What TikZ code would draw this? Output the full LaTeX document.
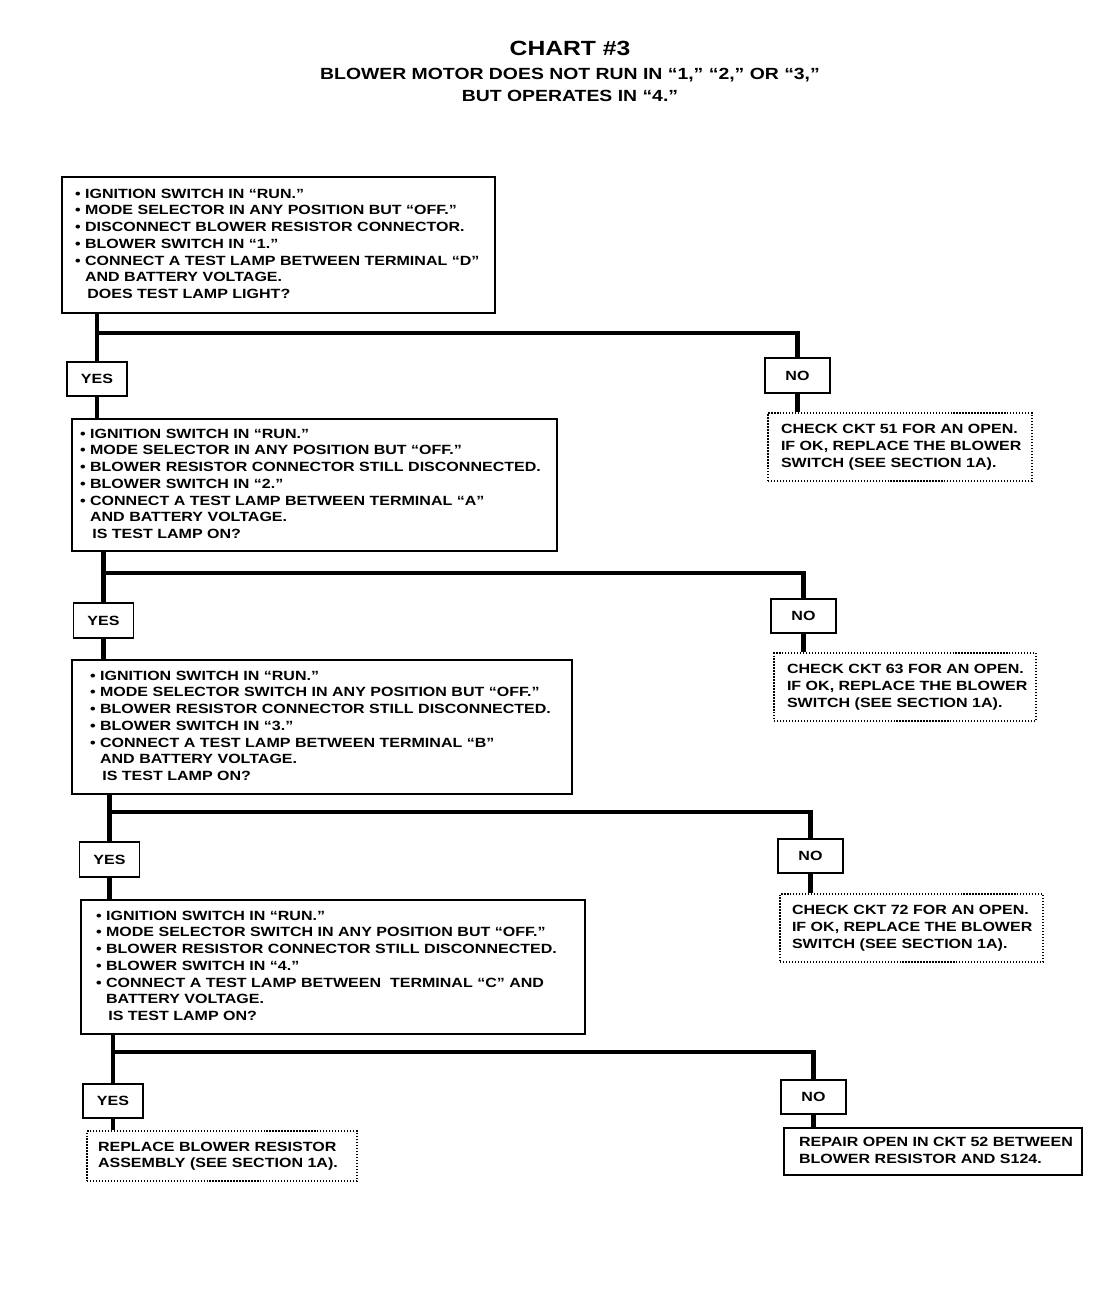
\documentclass[tikz,border=0pt]{standalone}
\usepackage{fontspec}
\setmainfont{Liberation Sans}[FakeStretch=1.2]
\newcommand{\boxlines}[1]{\begin{tabular}{@{}l@{}}#1\end{tabular}}

\begin{document}
\begin{tikzpicture}[x=0.02cm, y=-0.02cm,
  every node/.style={font=\fontsize{7.6}{9.5}\selectfont\bfseries, inner ysep=0pt},
  wire/.style={line width=2.3pt},
  testbox/.style={draw, line width=1.1pt, align=left},
  ansbox/.style={draw, line width=1.1pt, minimum height=0.69cm},
  fixbox/.style={draw, densely dotted, line width=0.7pt, align=left, minimum height=1.36cm}]
\useasboundingbox (0,0) rectangle (1104,1312);

% title
\node[font=\fontsize{11.7}{14}\selectfont\bfseries] (title) at (570,48) {CHART \#3};
\node[font=\fontsize{9.2}{12.5}\selectfont\bfseries, align=center] (subtitle) at (570,85)
  {BLOWER MOTOR DOES NOT RUN IN “1,” “2,” OR “3,”\\ BUT OPERATES IN “4.”};

% test steps
\node[testbox, minimum width=8.66cm, minimum height=2.72cm, inner xsep=0.26cm, text width=8.14cm] (box1) at (278.5,245) {\boxlines{
• IGNITION SWITCH IN “RUN.”\\
• MODE SELECTOR IN ANY POSITION BUT “OFF.”\\
• DISCONNECT BLOWER RESISTOR CONNECTOR.\\
• BLOWER SWITCH IN “1.”\\
• CONNECT A TEST LAMP BETWEEN TERMINAL “D”\\
\hphantom{• }AND BATTERY VOLTAGE.\\
\hphantom{• }\,DOES TEST LAMP LIGHT?}};
\node[testbox, minimum width=9.70cm, minimum height=2.64cm, inner xsep=0.16cm, text width=9.38cm] (box2) at (314.5,485) {\boxlines{
• IGNITION SWITCH IN “RUN.”\\
• MODE SELECTOR IN ANY POSITION BUT “OFF.”\\
• BLOWER RESISTOR CONNECTOR STILL DISCONNECTED.\\
• BLOWER SWITCH IN “2.”\\
• CONNECT A TEST LAMP BETWEEN TERMINAL “A”\\
\hphantom{• }AND BATTERY VOLTAGE.\\
\hphantom{• }\,IS TEST LAMP ON?}};
\node[testbox, minimum width=10cm, minimum height=2.68cm, inner xsep=0.36cm, text width=9.28cm] (box3) at (322,727) {\boxlines{
• IGNITION SWITCH IN “RUN.”\\
• MODE SELECTOR SWITCH IN ANY POSITION BUT “OFF.”\\
• BLOWER RESISTOR CONNECTOR STILL DISCONNECTED.\\
• BLOWER SWITCH IN “3.”\\
• CONNECT A TEST LAMP BETWEEN TERMINAL “B”\\
\hphantom{• }AND BATTERY VOLTAGE.\\
\hphantom{• }\,IS TEST LAMP ON?}};
\node[testbox, minimum width=10.08cm, minimum height=2.68cm, inner xsep=0.30cm, text width=9.48cm] (box4) at (333,967) {\boxlines{
• IGNITION SWITCH IN “RUN.”\\
• MODE SELECTOR SWITCH IN ANY POSITION BUT “OFF.”\\
• BLOWER RESISTOR CONNECTOR STILL DISCONNECTED.\\
• BLOWER SWITCH IN “4.”\\
• CONNECT A TEST LAMP BETWEEN \ TERMINAL “C” AND\\
\hphantom{• }BATTERY VOLTAGE.\\
\hphantom{• }\,IS TEST LAMP ON?}};

% yes / no answers
\foreach \x/\y/\name/\lab/\w in {97/379/yes1/YES/1.2, 797.5/375.5/no1/NO/1.3,
  103.5/620.5/yes2/YES/1.2, 803.5/616/no2/NO/1.3,
  109.5/859.5/yes3/YES/1.2, 810.5/856/no3/NO/1.3,
  113/1101/yes4/YES/1.2, 813.5/1097/no4/NO/1.3}{
 \node[ansbox, minimum width=\w cm] (\name) at (\x,\y) {\lab};
 }

% fixes
\node[fixbox, minimum width=5.28cm, inner xsep=0.26cm, text width=4.76cm] (fix1) at (900,447) {\boxlines{
CHECK CKT 51 FOR AN OPEN.\\ IF OK, REPLACE THE BLOWER\\ SWITCH (SEE SECTION 1A).}};
\node[fixbox, minimum width=5.24cm, inner xsep=0.26cm, text width=4.72cm] (fix2) at (905,687) {\boxlines{
CHECK CKT 63 FOR AN OPEN.\\ IF OK, REPLACE THE BLOWER\\ SWITCH (SEE SECTION 1A).}};
\node[fixbox, minimum width=5.26cm, inner xsep=0.24cm, text width=4.78cm] (fix3) at (911.5,928) {\boxlines{
CHECK CKT 72 FOR AN OPEN.\\ IF OK, REPLACE THE BLOWER\\ SWITCH (SEE SECTION 1A).}};
\node[fixbox, minimum width=5.4cm, minimum height=1cm, inner xsep=0.22cm, text width=4.96cm] (repl) at (222,1156) {\boxlines{
REPLACE BLOWER RESISTOR\\ ASSEMBLY (SEE SECTION 1A).}};
\node[testbox, line width=1.4pt, minimum width=5.96cm, minimum height=0.94cm, inner xsep=0.3cm, text width=5.36cm] (fix4) at (933,1151.5) {\boxlines{
REPAIR OPEN IN CKT 52 BETWEEN\\ BLOWER RESISTOR AND S124.}};

% connectors
\foreach \i/\jy/\next in {1/333/box2, 2/573/box3, 3/812/box4, 4/1052/repl}{
 \coordinate (j\i) at (0,\jy);
 \draw[wire] (box\i.south -| yes\i) -- (yes\i.north);
 \draw[wire] (yes\i |- j\i) -- (no\i |- j\i) -- (no\i.north);
 \draw[wire] (yes\i.south) -- (yes\i.south |- \next.north);
 \draw[wire] (no\i.south) -- (no\i.south |- fix\i.north);
 }
\end{tikzpicture}
\end{document}
